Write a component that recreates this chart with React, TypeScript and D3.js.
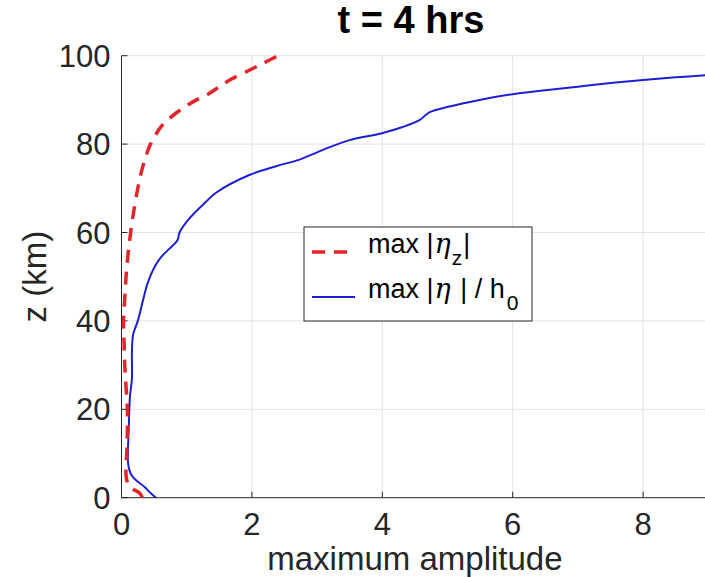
import React from "react";
import * as d3 from "d3";

const W = 705;
const H = 578;

// max |eta_z| (red dashed)
const redZ = [0, 1, 2.2, 3.5, 5, 10, 15, 20, 25, 30, 35, 40, 45, 50, 55, 60, 65, 70, 74, 77, 79.5, 82, 84, 86, 88.4, 90, 91.5, 93, 94.5, 96.7, 98.5, 100];
const redX = [0.32, 0.28, 0.15, 0.09, 0.07, 0.08, 0.09, 0.09, 0.07, 0.05, 0.04, 0.03, 0.05, 0.07, 0.1, 0.14, 0.19, 0.25, 0.31, 0.37, 0.43, 0.52, 0.61, 0.75, 0.97, 1.15, 1.35, 1.5, 1.66, 1.96, 2.2, 2.4];

// max |eta| / h0 (blue solid)
const blueZ = [0, 1, 2.5, 4, 5.2, 6.3, 8, 11.5, 15, 20, 23, 27, 33, 37, 40, 44.7, 48.5, 52.3, 54.5, 56.4, 58.3, 60, 62.8, 67, 69, 73, 75, 76.5, 78.7, 80.9, 82.4, 83.8, 85.4, 87.2, 88.5, 90, 91.3, 92.2, 93, 93.8, 94.5, 95.1, 95.6];
const blueX = [0.53, 0.45, 0.35, 0.22, 0.15, 0.12, 0.1, 0.1, 0.11, 0.12, 0.13, 0.16, 0.16, 0.18, 0.25, 0.33, 0.4, 0.51, 0.61, 0.74, 0.86, 0.89, 1.02, 1.3, 1.45, 1.96, 2.37, 2.73, 3.09, 3.5, 3.98, 4.3, 4.57, 4.72, 5.03, 5.49, 6.0, 6.5, 7.0, 7.5, 8.0, 8.5, 9.0];

const xTicks = [0, 2, 4, 6, 8];
const yTicks = [0, 20, 40, 60, 80, 100];

const titleText = "t = 4 hrs";
const xLabel = "maximum amplitude";
const yLabel = "z (km)";

const FONT = "'Liberation Sans', Arial, Helvetica, sans-serif";

export default function App() {
  const left = 121.5;
  const top = 55.7;
  const bottom = 497.7;
  const x = d3.scaleLinear().domain([0, 9]).range([left, left + 9 * 65.2]);
  const y = d3.scaleLinear().domain([0, 100]).range([bottom, top]);
  const right = x(9);

  const redPts: [number, number][] = redX.map((v, i) => [v, redZ[i]]);
  const bluePts: [number, number][] = blueX.map((v, i) => [v, blueZ[i]]);
  const line = d3
    .line<[number, number]>()
    .x((d) => x(d[0]))
    .y((d) => y(d[1]))
    .curve(d3.curveCatmullRom.alpha(0.5));

  const axisColor = "#262626";
  const gridColor = "#e3e3e3";
  const red = "#e3242b";
  const blue = "#1f1fd2";
  const eta = { fontStyle: "italic" as const, fontFamily: "'DejaVu Serif', serif" };

  return (
    <svg
      width={W}
      height={H}
      viewBox={`0 0 ${W} ${H}`}
      style={{ position: "absolute", left: 0, top: 0, background: "#fff" }}
      fontFamily={FONT}
    >
      <rect x={0} y={0} width={W} height={H} fill="#fff" />
      <defs>
        <clipPath id="plotclip">
          <rect x={left} y={top - 2} width={right - left} height={bottom - top + 4} />
        </clipPath>
      </defs>
      {/* grid */}
      {xTicks.filter((t) => t > 0).map((t) => (
        <line key={"gx" + t} x1={x(t)} x2={x(t)} y1={top} y2={bottom} stroke={gridColor} strokeWidth={1} />
      ))}
      {yTicks.filter((t) => t > 0).map((t) => (
        <line key={"gy" + t} x1={left} x2={right} y1={y(t)} y2={y(t)} stroke={gridColor} strokeWidth={1} />
      ))}
      {/* axes */}
      <line x1={left} x2={left} y1={top} y2={bottom} stroke={axisColor} strokeWidth={1} />
      <line x1={left} x2={right} y1={bottom} y2={bottom} stroke={axisColor} strokeWidth={1} />
      {xTicks.map((t) => (
        <line key={"tx" + t} x1={x(t)} x2={x(t)} y1={bottom} y2={bottom - 6} stroke={axisColor} strokeWidth={1} />
      ))}
      {yTicks.map((t) => (
        <line key={"ty" + t} x1={left} x2={left + 6} y1={y(t)} y2={y(t)} stroke={axisColor} strokeWidth={1} />
      ))}
      {/* tick labels */}
      {xTicks.map((t) => (
        <text key={"lx" + t} x={x(t)} y={bottom + 37} textAnchor="middle" fontSize={31} fill={axisColor}>
          {t}
        </text>
      ))}
      {yTicks.map((t) => (
        <text key={"ly" + t} x={left - 11} y={y(t) + 11} textAnchor="end" fontSize={31} fill={axisColor}>
          {t}
        </text>
      ))}
      {/* labels */}
      <text x={(left + right) / 2} y={570} textAnchor="middle" fontSize={33} fill={axisColor}>
        {xLabel}
      </text>
      <text
        transform={`translate(46, ${(top + bottom) / 2}) rotate(-90)`}
        textAnchor="middle"
        fontSize={33}
        fill={axisColor}
      >
        {yLabel}
      </text>
      <text x={411} y={33} textAnchor="middle" fontSize={38} fontWeight="bold" fill="#000">
        {titleText}
      </text>
      {/* data */}
      <g clipPath="url(#plotclip)">
        <path d={line(bluePts) || ""} fill="none" stroke={blue} strokeWidth={2} />
        <path d={line(redPts) || ""} fill="none" stroke={red} strokeWidth={3.5} strokeDasharray="13,9" />
      </g>
      {/* legend */}
      <rect x={304} y={227} width={228} height={94} fill="#fff" stroke={axisColor} strokeWidth={1} />
      <line x1={312} x2={355} y1={252} y2={252} stroke={red} strokeWidth={3.5} strokeDasharray="13,9" />
      <line x1={312} x2={355} y1={297} y2={297} stroke={blue} strokeWidth={2} />
      <text x={368} y={253} fontSize={27} fill="#000">
        <tspan>max |</tspan>
        <tspan {...eta} dx={1}>η</tspan>
        <tspan fontSize={21} dy={12} dx={1}>z</tspan>
        <tspan dy={-12} dx={1}>|</tspan>
      </text>
      <text x={368} y={298} fontSize={27} fill="#000">
        <tspan>max |</tspan>
        <tspan {...eta} dx={1}>η</tspan>
        <tspan dx={2}> | / h</tspan>
        <tspan fontSize={21} dy={12} dx={2}>0</tspan>
      </text>
    </svg>
  );
}
